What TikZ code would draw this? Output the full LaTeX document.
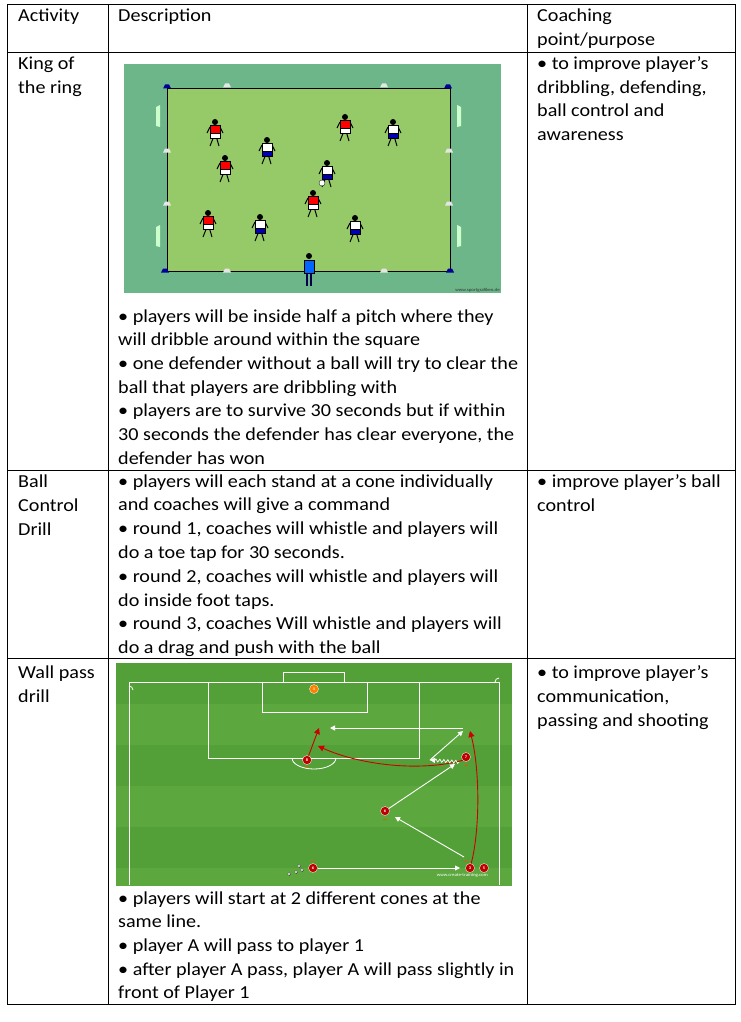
\documentclass[tikz,border=0pt]{standalone}
\usepackage{fontspec}
\setmainfont{Carlito}[FakeStretch=1.1]
\usetikzlibrary{arrows.meta,decorations.pathmorphing}
\begin{document}
\begin{tikzpicture}[x=1pt,y=-1pt,
  txt/.style={anchor=base west,inner sep=0pt,font=\fontsize{18.3}{20}\selectfont},
  grid/.style={line width=0.9pt},
  wp/.style={white,line width=0.9pt,-{Triangle[width=5pt,length=5pt]}},
  rp/.style={red!80!black,line width=0.9pt,-{Triangle[width=6pt,length=6pt]}},
  num/.style={circle,fill=red!75!black,draw=white,line width=0.3pt,minimum size=9pt,inner sep=0pt,font=\fontsize{4}{4}\selectfont\bfseries,text=white}]
\useasboundingbox (0,0) rectangle (740,1022);
\fill[white] (0,0) rectangle (740,1022);
% table
\draw[grid] (7,4) rectangle (735,1004);
\draw[grid] (108,4) -- (108,1004) (527,4) -- (527,1004);
\draw[grid] (7,52) -- (735,52) (7,470) -- (735,470) (7,658) -- (735,658);
% header
\node[txt] (h1) at (18,22) {Activity};
\node[txt] (h2) at (118,22) {Description};
\node[txt] (h3) at (537,22) {Coaching};
\node[txt] (h4) at (537,46) {point/purpose};
% row 1
\node[txt] (a1) at (18,70) {King of};
\node[txt] (a2) at (18,94) {the ring};
\node[txt] (c1) at (537,70) {• to improve player’s};
\node[txt] (c2) at (537,94) {dribbling, defending,};
\node[txt] (c3) at (537,117) {ball control and};
\node[txt] (c4) at (537,140) {awareness};
\foreach \t [count=\i from 0] in {{• players will be inside half a pitch where they},{will dribble around within the square},{• one defender without a ball will try to clear the},{ball that players are dribbling with},{• players are to survive 30 seconds but if within},{30 seconds the defender has clear everyone, the},{defender has won}}
  \node[txt] (d1\i) at (118,322+23.7*\i) {\t};
% row 2
\node[txt] (b1) at (18,487) {Ball};
\node[txt] (b2) at (18,511) {Control};
\node[txt] (b3) at (18,535) {Drill};
\node[txt] (e1) at (537,487) {• improve player’s ball};
\node[txt] (e2) at (537,511) {control};
\foreach \t [count=\i from 0] in {{• players will each stand at a cone individually},{and coaches will give a command},{• round 1, coaches will whistle and players will},{do a toe tap for 30 seconds.},{• round 2, coaches will whistle and players will},{do inside foot taps.},{• round 3, coaches Will whistle and players will},{do a drag and push with the ball}}
  \node[txt] (d2\i) at (118,487+23.8*\i) {\t};
% row 3
\node[txt] (w1) at (18,678) {Wall pass};
\node[txt] (w2) at (18,702) {drill};
\node[txt] (f1) at (537,678) {• to improve player’s};
\node[txt] (f2) at (537,702) {communication,};
\node[txt] (f3) at (537,726) {passing and shooting};
\foreach \t [count=\i from 0] in {{• players will start at 2 different cones at the},{same line.},{• player A will pass to player 1},{• after player A pass, player A will pass slightly in},{front of Player 1}}
  \node[txt] (d3\i) at (118,904+23.7*\i) {\t};

% ===== image 1 =====
\fill[fill={rgb,255:red,108;green,182;blue,138}] (124,64) rectangle (501,293);
\draw[black,line width=0.6pt,fill={rgb,255:red,150;green,202;blue,104}] (167,88) rectangle (450,271);
\foreach \p in {(160,117),(160,237)} \fill[white!80!green] \p ++(-4,-10) -- ++(4,-2) -- ++(0,22) -- ++(-4,-1) -- cycle;
\foreach \p in {(457,117),(457,237)} \fill[white!80!green] \p ++(4,-10) -- ++(-4,-2) -- ++(0,22) -- ++(4,-1) -- cycle;
\foreach \p in {(167,87),(448,87),(165,271),(450,271)} \fill[blue!60!black] \p ++(-4,1.5) -- ++(2,-4) -- ++(4,0) -- ++(2,4) -- cycle;
\foreach \p in {(227,86),(384,86),(227,271),(384,271),(167,151),(167,204),(449,151),(449,204)} \fill[white!80!gray] \p ++(-4,1.5) -- ++(2,-4) -- ++(4,0) -- ++(2,4) -- cycle;
\foreach \x/\y/\c/\s in {215/132/red/white,225/168/red/white,208/223/red/white,345/127/red/white,313/203/red/white,267/150/white/blue!70!black,393/132/white/blue!70!black,327/173/white/blue!70!black,260/227/white/blue!70!black,355/228/white/blue!70!black}{
  \draw[black,line width=1pt] (\x-1,\y+4) -- (\x-5,\y+14) (\x+1,\y+4) -- (\x+4,\y+14) (\x-5,\y-5) -- (\x-8,\y+1) (\x+5,\y-5) -- (\x+8,\y+1);
  \fill[\c,draw=black,line width=0.2pt] (\x-5,\y-7) rectangle (\x+5,\y+1);
  \fill[\s,draw=black,line width=0.2pt] (\x-5,\y+1) rectangle (\x+5,\y+6);
  \fill[black] (\x,\y-10) circle (3);
}
\fill[white,draw=black,line width=0.3pt] (322,183) circle (3);
\draw[black!70!blue,line width=1.8pt] (307,272) -- (307,286) (311,272) -- (311,286);
\fill[blue!60!cyan,draw=black,line width=0.2pt] (304,260) rectangle (314,273);
\fill[black] (309,256) circle (3);
\node[font=\fontsize{4.5}{5}\selectfont,text=black!80,anchor=east,inner sep=0pt] (src1) at (500,290) {www.sportgrafiken.de};

% ===== image 2 =====
\begin{scope}
\clip (116,663) rectangle (512,885);
\fill[fill={rgb,255:red,84;green,160;blue,56}] (116,663) rectangle (512,885);
\foreach \y in {663,745,827} \fill[fill={rgb,255:red,92;green,168;blue,62}] (116,\y+41) rectangle (512,\y+82);
\end{scope}
\begin{scope}[white,line width=0.8pt]
\draw (129,885) -- (129,682) -- (499,682) -- (499,885);
\draw (208,682) -- (208,758) -- (419,758) -- (419,682);
\draw (262,682) -- (262,712) -- (367,712) -- (367,682);
\draw (283,682) -- (283,672) -- (344,672) -- (344,682);
\draw (292,758) arc[start angle=180,end angle=360,x radius=22,y radius=-11];
\draw (129,686) arc[start angle=-90,end angle=0,radius=4];
\draw (495,682) arc[start angle=180,end angle=270,radius=4];
\end{scope}
\node[circle,fill=orange,draw=white,line width=0.3pt,minimum size=9pt,inner sep=0pt,font=\fontsize{4}{4}\selectfont\bfseries,text=white] (g1) at (314,689) {1};
\node[num] (p8) at (307,760) {8};
\node[num] (p7) at (466,757) {7};
\node[num] (p6) at (385,811) {6};
\node[num] (q6) at (313,868) {6};
\node[num] (p3) at (470,868) {3};
\node[num] (p5) at (484,868) {5};
\coordinate (t1) at (330,728);  \coordinate (s1) at (463,728);
\coordinate (t2) at (319,728);
\coordinate (t3) at (318,746);
\coordinate (t4) at (455,764);
\coordinate (t5) at (395,817);  \coordinate (s5) at (464,857);
\coordinate (t6) at (460,868);
\coordinate (t7) at (470,731);
\coordinate (s8) at (430,760); \coordinate (t8) at (463,731);
\coordinate (w0) at (459,762);
\draw[wp] (s1) -- (t1);
\draw[rp] (p8) -- (t2);
\draw[rp] (p7.south west) .. controls (420,772) and (360,765) .. (t3);
\draw[wp] (p6) -- (t4);
\draw[wp] (s5) -- (t5);
\draw[wp] (q6) -- (t6);
\draw[rp] (p3) .. controls (480,830) and (480,770) .. (t7);
\draw[wp] (s8) -- (t8);
\draw[white,line width=0.7pt,decorate,decoration={snake,amplitude=1.5pt,segment length=4pt},-{Triangle[width=5pt,length=5pt]}] (w0) -- (s8);
\foreach \p in {(289,874),(296,872),(302,870),(299,866)} \fill[white,draw=black,line width=0.2pt] \p circle (1.6);
\foreach \p in {(313,861),(466,861),(385,819),(307,766),(466,765)} \fill[orange!80!black] \p ++(-2,0) rectangle ++(4,0.8);
\node[font=\fontsize{4.5}{5}\selectfont,text=white,anchor=east,inner sep=0pt] (src2) at (488,875) {www.create-training.com};
\end{tikzpicture}
\end{document}
